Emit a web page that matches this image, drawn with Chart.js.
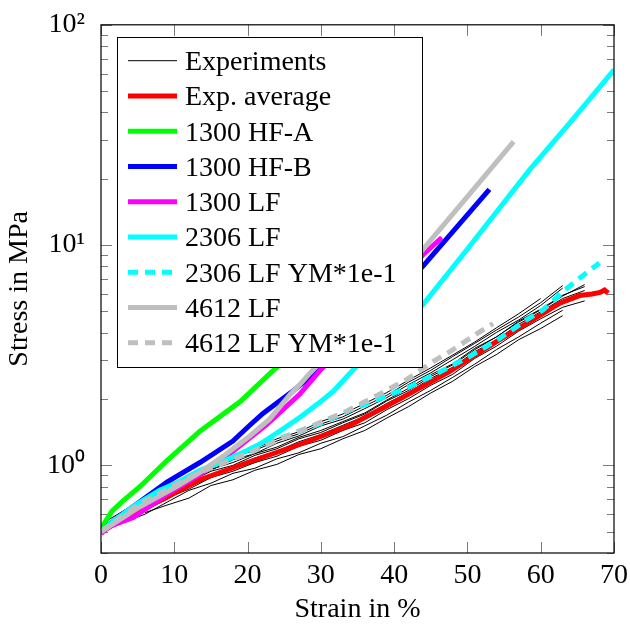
<!DOCTYPE html>
<html lang="en">
<head>
  <meta charset="UTF-8" />
  <title>Stress vs strain</title>
  <script src="https://cdn.jsdelivr.net/npm/chart.js"></script>
  <style>
    html, body { margin: 0; padding: 0; background: #fff; }
  </style>
</head>
<body>
  <canvas id="chart" width="630" height="630"></canvas>

  <script>
    // axes
    const xTicks = [0, 10, 20, 30, 40, 50, 60, 70];
    const yTicks = [0.4, 0.5, 0.6, 0.7, 0.8, 0.9, 1, 2, 3, 4, 5, 6, 7, 8, 9, 10,
                    20, 30, 40, 50, 60, 70, 80, 90, 100];
    const yMajor = { 1: '10⁰', 10: '10¹', 100: '10²' };

    // experiments: strain in %, one stress array (MPa) per specimen
    const expStrain = [0, 3, 6, 9, 12, 15, 18, 21, 24, 27, 30, 33, 36, 39, 42, 45, 48, 51, 54, 57, 60, 63, 66];
    const exp01 = [0.52,0.61,0.69,0.78,0.89,0.98,1.09,1.17,1.29,1.39,1.54,1.66,1.86,2.08,2.39,2.70,3.12,3.58,4.12,4.72,5.48,6.55];
    const exp02 = [0.51,0.58,0.67,0.77,0.85,0.96,1.03,1.13,1.21,1.34,1.44,1.58,1.73,1.98,2.24,2.58,2.89,3.40,3.83,4.52,5.12,5.92,6.48];
    const exp03 = [0.53,0.59,0.66,0.74,0.86,0.95,1.06,1.13,1.26,1.36,1.51,1.62,1.81,2.03,2.33,2.63,3.02,3.47,4.02,4.57,5.32,6.38];
    const exp04 = [0.50,0.57,0.65,0.72,0.81,0.91,0.98,1.08,1.16,1.28,1.38,1.52,1.67,1.91,2.15,2.48,2.79,3.28,3.72,4.37,4.98,5.72,6.22];
    const exp05 = [0.52,0.56,0.62,0.71,0.78,0.88,0.94,1.03,1.10,1.22,1.30,1.44,1.56,1.79,2.01,2.31,2.59,3.06,3.48,4.07,4.63,5.22,5.58];
    const exp06 = [0.50,0.55,0.60,0.68,0.77,0.83,0.92,0.97,1.07,1.14,1.26,1.35,1.51,1.69,1.94,2.19,2.51,2.88,3.36,3.83,4.42,5.06];
    const exp07 = [null,null,0.61,0.66,0.71,0.81,0.86,0.95,1.01,1.12,1.19,1.32,1.44,1.64,1.85,2.13,2.41,2.81,3.19,3.72,4.18,4.78];
    const exp08 = [0.54,0.62,0.70,0.80,0.91,1.00,1.11,1.19,1.32,1.42,1.58,1.71,1.91,2.14,2.44,2.77,3.17,3.63,4.22,4.88,5.72];
    const exp09 = [0.51,0.58,0.66,0.74,0.84,0.94,1.00,1.11,1.19,1.32,1.41,1.56,1.71,1.96,2.19,2.53,2.86,3.35,3.84,4.47,5.08,5.87,6.62];
    const exp10 = [0.50,0.56,0.63,0.70,0.80,0.88,0.97,1.03,1.14,1.23,1.35,1.45,1.62,1.82,2.09,2.36,2.69,3.12,3.61,4.14,4.81,5.43,5.92];

    // experimental average
    const avgStrain = [0, 4, 8, 13.5, 20, 27, 34, 41, 47.6, 54.4, 59, 62.6, 65.3, 67, 68.1, 68.7, 69.2];
    const avgStress = [0.5, 0.59, 0.69, 0.86, 1.03, 1.24, 1.52, 2.02, 2.67, 3.72, 4.6, 5.45, 5.9, 6.0, 6.1, 6.25, 6.05];

    // simulations
    const hfaStrain = [0, 0.5, 1.5, 3, 5.3, 9, 13.5, 19, 23.5, 28, 33];
    const hfaStress = [0.5, 0.55, 0.62, 0.69, 0.80, 1.05, 1.43, 1.95, 2.7, 3.6, 4.9];

    const hfbStrain = [0, 2, 4.4, 9, 13.5, 18, 20.3, 22.1, 26, 30, 35, 40, 44, 53];
    const hfbStress = [0.5, 0.57, 0.65, 0.84, 1.03, 1.29, 1.52, 1.72, 2.15, 2.75, 3.9, 5.8, 8.07, 17.9];

    const lf1300Strain = [0, 1.2, 4.4, 9, 13.5, 18, 22.6, 27.1, 29.9, 35, 40, 44, 46.5];
    const lf1300Stress = [0.49, 0.53, 0.58, 0.74, 0.91, 1.16, 1.53, 2.1, 2.7, 4.0, 6.0, 9.1, 10.8];

    const lf2306Strain = [0, 2, 5, 8, 10.3, 13.5, 16, 18, 20, 21.7, 24.4, 27.1, 30, 31.7, 34.8, 40, 44, 50, 58.5, 64, 70];
    const lf2306Stress = [0.5, 0.57, 0.67, 0.77, 0.83, 0.95, 1.02, 1.09, 1.17, 1.25, 1.43, 1.65, 1.95, 2.17, 2.8, 4.0, 5.4, 9.6, 22, 36, 62.5];

    const lf2306ymStrain = [0, 5, 10, 13.5, 16, 18.5, 20.8, 24.8, 27.1, 30, 34, 37.8, 42.2, 46.2, 50.3, 54.4, 58, 60.3, 63.5, 65.3, 68];
    const lf2306ymStress = [0.5, 0.67, 0.82, 0.94, 1.01, 1.10, 1.19, 1.34, 1.43, 1.55, 1.78, 1.99, 2.28, 2.65, 3.12, 3.77, 4.56, 5.08, 6.33, 7.08, 8.3];

    const lf4612Strain = [0, 5, 10.3, 13.5, 17, 20.3, 23, 25.8, 27.1, 28.5, 30, 35, 40, 44, 50, 56.3];
    const lf4612Stress = [0.5, 0.64, 0.80, 0.93, 1.12, 1.36, 1.62, 2.1, 2.32, 2.62, 2.95, 4.45, 6.8, 9.6, 16.6, 29.5];

    const lf4612ymStrain = [0, 5, 10, 13.5, 16.6, 20.8, 23, 26, 29.4, 33.5, 37.6, 41.7, 45.3, 47.6, 51.5, 53.5];
    const lf4612ymStress = [0.5, 0.66, 0.81, 0.93, 1.02, 1.16, 1.25, 1.38, 1.54, 1.76, 2.07, 2.45, 2.96, 3.28, 4.0, 4.4];

    const pts = (xs, ys) => xs.map((x, i) => ({ x, y: ys[i] })).slice(0, ys.length);

    const datasets = [];
    [exp01, exp02, exp03, exp04, exp05, exp06, exp07, exp08, exp09, exp10].forEach((s, i) => {
      datasets.push({
        label: 'Experiments', legend: i === 0, data: pts(expStrain, s),
        borderColor: '#000', borderWidth: 1, order: 100 + i
      });
    });

    const sims = [
      ['Exp. average',       avgStrain,      avgStress,      '#ff0000', []],
      ['1300 HF-A',          hfaStrain,      hfaStress,      '#00ff00', []],
      ['1300 HF-B',          hfbStrain,      hfbStress,      '#0000ff', []],
      ['1300 LF',            lf1300Strain,   lf1300Stress,   '#ff00ff', []],
      ['2306 LF',            lf2306Strain,   lf2306Stress,   '#00ffff', []],
      ['2306 LF YM*1e-1',    lf2306ymStrain, lf2306ymStress, '#00ffff', [10, 7]],
      ['4612 LF',            lf4612Strain,   lf4612Stress,   '#bfbfbf', []],
      ['4612 LF YM*1e-1',    lf4612ymStrain, lf4612ymStress, '#bfbfbf', [10, 7]],
    ];
    sims.forEach(([label, xs, ys, color, dash], i) => {
      datasets.push({
        label, legend: true, data: pts(xs, ys),
        borderColor: color, borderWidth: 5, borderDash: dash,
        order: sims.length - i
      });
    });

    // inside tick marks, frame and boxed legend like the original
    const decor = {
      id: 'decor',
      beforeDatasetsDraw(chart) {
        const { ctx, chartArea: a, scales: { x, y } } = chart;
        ctx.save();
        ctx.strokeStyle = '#7a7a7a';
        ctx.lineWidth = 1;
        ctx.beginPath();
        xTicks.forEach(v => {
          const px = Math.round(x.getPixelForValue(v)) + 0.5;
          ctx.moveTo(px, a.bottom); ctx.lineTo(px, a.bottom - 11);
          ctx.moveTo(px, a.top);    ctx.lineTo(px, a.top + 11);
        });
        yTicks.forEach(v => {
          const py = Math.round(y.getPixelForValue(v)) + 0.5;
          const len = yMajor[v] ? 11 : 7;
          ctx.moveTo(a.left, py);  ctx.lineTo(a.left + len, py);
          ctx.moveTo(a.right, py); ctx.lineTo(a.right - len, py);
        });
        ctx.stroke();
        ctx.restore();
      },
      afterDraw(chart) {
        const { ctx, chartArea: a } = chart;
        ctx.save();
        ctx.strokeStyle = '#000';
        ctx.lineWidth = 1.2;
        ctx.strokeRect(a.left, a.top, a.right - a.left, a.bottom - a.top);

        // legend
        const bx = 117, by = 37, bw = 305, bh = 330;
        ctx.fillStyle = '#fff';
        ctx.fillRect(bx, by, bw, bh);
        ctx.lineWidth = 1;
        ctx.strokeStyle = '#000';
        ctx.strokeRect(bx + 0.5, by + 0.5, bw, bh);

        ctx.font = '28px "Liberation Serif", serif';
        ctx.textBaseline = 'alphabetic';
        ctx.textAlign = 'left';
        chart.data.datasets.filter(d => d.legend).forEach((d, i) => {
          const yy = 60.7 + i * 35.25;
          ctx.beginPath();
          ctx.strokeStyle = d.borderColor;
          ctx.lineWidth = d.borderWidth;
          ctx.setLineDash(d.borderDash || []);
          ctx.moveTo(128, yy); ctx.lineTo(177, yy);
          ctx.stroke();
          ctx.setLineDash([]);
          ctx.fillStyle = '#000';
          ctx.fillText(d.label, 185, yy + 9.5);
        });
        ctx.restore();
      }
    };

    Chart.defaults.font.family = '"Liberation Serif", serif';
    Chart.defaults.font.size = 28;
    Chart.defaults.color = '#000';

    new Chart(document.getElementById('chart'), {
      type: 'line',
      data: { datasets },
      options: {
        responsive: false,
        animation: false,
        devicePixelRatio: 1,
        layout: { padding: { top: 20, right: 16, left: 0, bottom: 0 } },
        elements: {
          point: { radius: 0 },
          line: { tension: 0, borderCapStyle: 'butt', borderJoinStyle: 'miter', fill: false }
        },
        datasets: { line: { clip: 0, spanGaps: false } },
        plugins: {
          legend: { display: false },
          tooltip: { enabled: false }
        },
        scales: {
          x: {
            type: 'linear', min: 0, max: 70,
            afterBuildTicks: s => { s.ticks = xTicks.map(v => ({ value: v })); },
            afterFit: s => { s.height = 77; },
            grid: { display: false },
            border: { display: false },
            ticks: { padding: -2, autoSkip: false, maxRotation: 0 },
            title: { display: true, text: 'Strain in %', padding: { top: 0, bottom: 4 } }
          },
          y: {
            type: 'logarithmic', min: 0.4, max: 100,
            afterBuildTicks: s => { s.ticks = yTicks.map(v => ({ value: v })); },
            afterFit: s => { s.width = 101; },
            grid: { display: false },
            border: { display: false },
            ticks: {
              padding: 8, autoSkip: false,
              callback: v => yMajor[v] || ''
            },
            title: { display: true, text: 'Stress in MPa', padding: { top: 3, bottom: 0 } }
          }
        }
      },
      plugins: [decor]
    });
  </script>
</body>
</html>
